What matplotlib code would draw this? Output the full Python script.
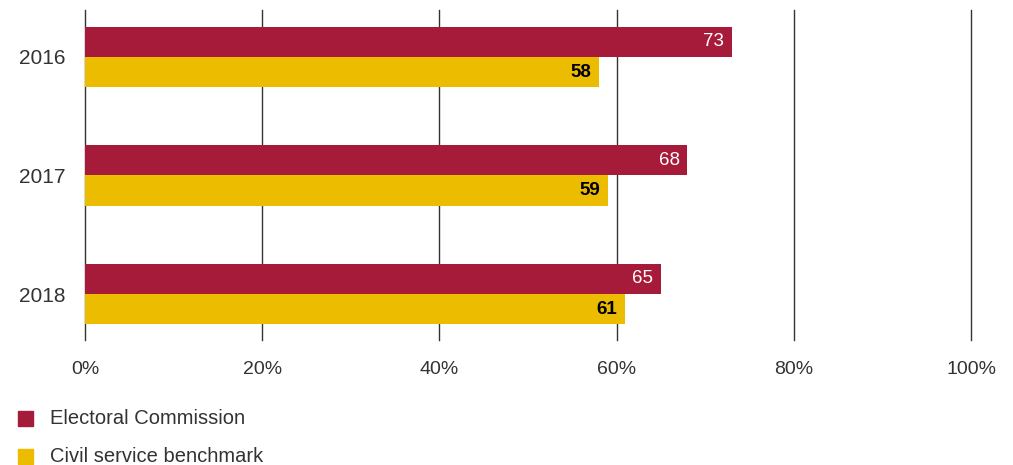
import matplotlib.pyplot as plt
import numpy as np

# data
years = ["2016", "2017", "2018"]
electoral = [73, 68, 65]
benchmark = [58, 59, 61]
ticks = [0, 20, 40, 60, 80, 100]
tick_labels = ["0%", "20%", "40%", "60%", "80%", "100%"]

red = "#A71B3A"
yellow = "#EBBC00"
txt = "#333333"

plt.rcParams['font.family'] = ['Liberation Sans', 'DejaVu Sans']

fig = plt.figure(figsize=(10.13, 4.65), dpi=100)
ax = fig.add_axes([85 / 1013, 1 - 340 / 465, (971 - 85) / 1013, 330 / 465])

y = np.arange(len(years))
h = 0.255
ax.barh(y - h / 2, electoral, height=h, color=red, zorder=3)
ax.barh(y + h / 2, benchmark, height=h, color=yellow, zorder=3)

for i in range(len(years)):
    ax.text(electoral[i] - 0.9, y[i] - h / 2, str(electoral[i]), ha="right", va="center",
            color="white", fontsize=13.5, zorder=4)
    ax.text(benchmark[i] - 0.9, y[i] + h / 2, str(benchmark[i]), ha="right", va="center",
            color="black", fontsize=13.5, fontweight="bold", zorder=4)

ax.set_xlim(0, 100)
ax.set_ylim(2 + 46 / 118.5, -47 / 118.5)
ax.set_xticks(ticks)
ax.set_xticklabels(tick_labels)
ax.set_yticks(y)
ax.set_yticklabels(years)
ax.tick_params(axis="x", length=0, pad=15, labelsize=14, labelcolor=txt)
ax.tick_params(axis="y", length=0, pad=14, labelsize=15, labelcolor=txt)
for s in ax.spines.values():
    s.set_visible(False)
for t in ticks:
    ax.axvline(t, color="#333333", lw=1, zorder=1, clip_on=False)

# legend
fig.patches.append(plt.Rectangle((18 / 1013, 1 - 426 / 465), 15 / 1013, 15 / 465,
                                  transform=fig.transFigure, color=red))
fig.patches.append(plt.Rectangle((18 / 1013, 1 - 464 / 465), 15 / 1013, 15 / 465,
                                  transform=fig.transFigure, color=yellow))
fig.text(50 / 1013, 1 - 418 / 465, "Electoral Commission", va="center", fontsize=14.5, color=txt)
fig.text(50 / 1013, 1 - 456 / 465, "Civil service benchmark", va="center", fontsize=14.5, color=txt)

fig.savefig("out.png", dpi=100)
